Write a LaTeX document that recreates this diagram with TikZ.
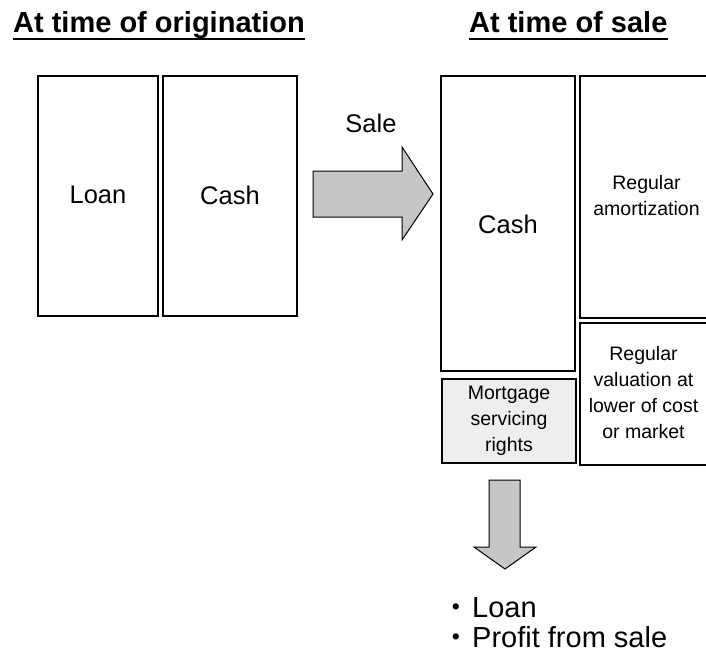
\documentclass[tikz,border=0pt]{standalone}
\usepackage{fontspec}
\setmainfont{Liberation Sans}
\begin{document}
\begin{tikzpicture}[x=1pt,y=-1pt,
  box/.style={draw=black, line width=1.5pt, inner sep=0pt, fill=white},
  msr/.style={box, fill=gray!13},
  bigtxt/.style={font=\fontsize{25.5}{30}\selectfont},
  smalltxt/.style={font=\fontsize{19.5}{26}\selectfont, align=center},
  title/.style={font=\fontsize{29}{34}\selectfont\bfseries, anchor=base west, inner sep=0pt},
  arrowshape/.style={draw=black, line width=1pt, fill=gray!45, line join=miter},
  uline/.style={line width=2.2pt},
  listtxt/.style={font=\fontsize{29}{30}\selectfont, anchor=base west, inner sep=0pt},
  bullet/.style={font=\fontsize{23}{24}\selectfont, anchor=base, inner sep=0pt}
]
\useasboundingbox (0,0) rectangle (706,657);
\begin{scope}
\clip (0,0) rectangle (706,657);
% titles
\node[title] (t1) at (13,32) {At time of origination};
\draw[uline] ([yshift=-7pt]t1.base west) -- ([yshift=-7pt]t1.base east);
\node[title] (t2) at (469,32) {At time of sale};
\draw[uline] ([yshift=-7pt]t2.base west) -- ([yshift=-7pt]t2.base east);

% left boxes
\node[box, minimum width=120pt, minimum height=240pt] (loan) at (98,196) {};
\node[bigtxt] at ([yshift=1pt]loan.center) {Loan};
\node[box, minimum width=134pt, minimum height=240pt] (cash1) at (230,196) {};
\node[bigtxt] at ([yshift=1pt]cash1.center) {Cash};

% sale arrow
\node[bigtxt] (sale) at (371,123) {Sale};
\draw[arrowshape] (313,171) -- (402,171) -- (402,147) -- (433,194) -- (402,240) -- (402,217) -- (313,217) -- cycle;

% right boxes
\node[box, minimum width=134pt, minimum height=295pt] (cash2) at (508,223.5) {};
\node[bigtxt] at ([yshift=-1pt]cash2.center) {Cash};
\node[box, minimum width=133pt, minimum height=242pt] (amort) at (646.5,197) {};
\node[smalltxt] at ([yshift=1pt]amort.center) {Regular\\amortization};
\node[box, minimum width=133pt, minimum height=142pt] (valu) at (646.5,394) {};
\node[smalltxt] at ([xshift=-3pt,yshift=1pt]valu.center) {Regular\\valuation at\\lower of cost\\or market};
\node[msr, minimum width=134pt, minimum height=84pt] (msr) at (509,421) {};
\node[smalltxt] at (msr.center) {Mortgage\\servicing\\rights};

% down arrow
\draw[arrowshape] (489,480) -- (520,480) -- (520,547) -- (536,547) -- (505,569) -- (474,547) -- (489,547) -- cycle;

% result list
\node[bullet] (b1) at (456,614.5) {•};
\node[listtxt] (l1) at (472,617) {Loan};
\node[bullet] (b2) at (456,644.5) {•};
\node[listtxt] (l2) at (472,647) {Profit from sale};
\end{scope}
\end{tikzpicture}
\end{document}
